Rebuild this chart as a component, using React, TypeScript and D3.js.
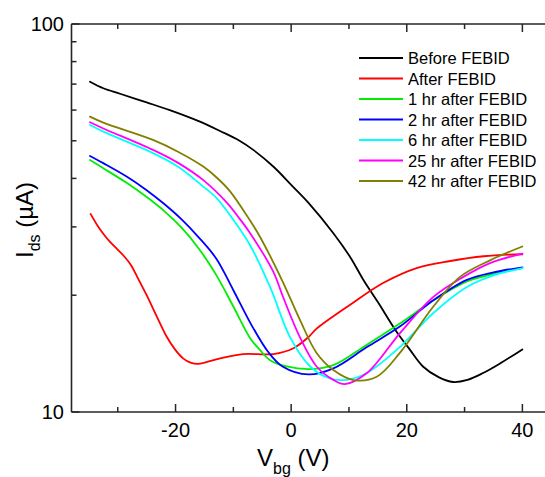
import React from "react";
import * as d3 from "d3";

type P = [number, number];

const seriesNames = [
  "Before FEBID",
  "After FEBID",
  "1 hr after FEBID",
  "2 hr after FEBID",
  "6 hr after FEBID",
  "25 hr after FEBID",
  "42 hr after FEBID",
];
const seriesColors = ["#000000", "#ff0000", "#00ee00", "#0000ff", "#00ffff", "#ff00ff", "#808000"];

const before: P[] = [
  [-34.8, 71.0], [-32.5, 68.3], [-29.6, 66.1], [-25, 62.8], [-21, 60.0], [-16, 56.2], [-12.3, 53.0],
  [-9, 50.1], [-6.5, 47.3], [-3, 42.8], [0, 38.5], [3, 34.6], [7.3, 28.9], [10.2, 25.1], [12.5, 21.9],
  [15, 19.2], [18, 16.3], [20.5, 14.5], [22.8, 13.1], [25.5, 12.3], [28, 11.95], [30.5, 12.1],
  [33.2, 12.6], [36, 13.3], [40, 14.5],
];
const after: P[] = [
  [-34.7, 32.4], [-33.6, 30.4], [-32.5, 28.8], [-31.3, 27.4], [-30.1, 26.3], [-28.9, 25.2],
  [-27.7, 23.9], [-26.5, 22.1], [-25, 20.0], [-23.3, 17.7], [-21.5, 15.6], [-20.1, 14.5],
  [-18.7, 13.75], [-17.4, 13.4], [-16.1, 13.3], [-12.3, 13.75], [-8.3, 14.1], [-3.1, 14.1], [0.4, 14.6],
  [3, 15.6], [4.4, 16.4], [10.2, 18.9], [15.9, 21.5], [21.7, 23.5], [27.5, 24.5], [33.3, 25.2],
  [40, 25.5],
];
const hr1: P[] = [
  [-34.8, 44.6], [-32.5, 42.5], [-28.4, 38.9], [-25, 35.8], [-22, 33.0], [-19, 29.9], [-16, 26.4],
  [-13, 22.6], [-10, 18.7], [-7.1, 15.5], [-5.4, 14.45], [-3.65, 13.6], [-0.76, 13.1],
  [3.3, 12.9], [7.3, 13.2], [13.1, 14.9], [18.8, 16.9], [24.6, 19.4], [30.4, 21.7], [35, 22.7],
  [40, 23.5],
];
const hr2: P[] = [
  [-34.8, 45.7], [-32.5, 43.8], [-28.4, 40.4], [-25, 37.3], [-22, 34.4], [-19, 31.4], [-16, 28.2],
  [-13, 24.9], [-10, 20.6], [-7, 16.9], [-4, 14.3], [-1.5, 13.1], [3, 12.5], [7.3, 12.96],
  [13.1, 14.7], [18.8, 16.6], [24.6, 19.4], [30.4, 21.9], [35, 22.9], [40, 23.6],
];
const hr6: P[] = [
  [-34.8, 54.9], [-32.5, 52.8], [-23.8, 46.4], [-19.5, 42.8], [-15.2, 38.1], [-12.9, 35.6],
  [-10.6, 32.2], [-7.1, 26.9], [-3.65, 21.0], [-0.2, 15.6], [3.3, 13.1], [6.7, 12.2], [9.6, 12.1],
  [13.1, 12.6], [18.8, 14.7], [24.6, 18.0], [30.4, 21.0], [35, 22.5], [40, 23.5],
];
const hr25: P[] = [
  [-34.8, 55.8], [-32.5, 53.8], [-23.8, 47.3], [-19.5, 43.8], [-15.2, 39.6], [-11.1, 34.6], [-9, 31.6],
  [-7.1, 28.9], [-3.1, 23.0], [-1.35, 19.7], [1.5, 15.6], [4.4, 13.1], [7.3, 12.1], [9.3, 11.8],
  [13.1, 12.6], [18.8, 15.95], [24.6, 19.8], [29.8, 22.3], [34.4, 24.2], [40, 25.6],
];
const hr42: P[] = [
  [-34.8, 57.7], [-32.5, 55.7], [-23.8, 50.2], [-19.5, 46.8], [-15.2, 42.9], [-12.8, 40.1],
  [-10.6, 37.1], [-7.2, 31.3], [-5.4, 28.3], [-1.35, 21.5], [1.5, 17.3], [4.4, 14.2], [7.3, 12.83],
  [10.8, 12.09], [14.8, 12.33], [18.8, 14.2], [24.6, 18.7], [29.2, 22.3], [34.4, 24.6], [40, 26.7],
];
const allSeries = [before, after, hr1, hr2, hr6, hr25, hr42];

const xMajorTicks = [-20, 0, 20, 40];
const xMinorTicks = [-30, -10, 10, 30];
const yMajorTicks = [10, 100];
const yMinorTicks = [20, 30, 40, 50, 60, 70, 80, 90];

const W = 545;
const H = 477;
const left = 71.5;
const right = 545.5;
const top = 24;
const bottom = 412;

export default function App() {
  const x = d3.scaleLinear().domain([-38, 44]).range([left, right]);
  const y = d3.scaleLog().domain([10, 100]).range([bottom, top]);
  const line = d3
    .line<P>()
    .x((d) => x(d[0]))
    .y((d) => y(d[1]))
    .curve(d3.curveCatmullRom.alpha(0.5));
  const font = "'Liberation Sans', Arial, sans-serif";
  const axisColor = "#262626";

  return (
    <svg
      width={W}
      height={H}
      style={{ position: "absolute", left: 0, top: 0, background: "#fff" }}
      fontFamily={font}
    >
      <rect x={0} y={0} width={W} height={H} fill="#fff" />
      {/* frame */}
      <line x1={left} x2={left} y1={top} y2={bottom} stroke={axisColor} strokeWidth={1.6} />
      <line x1={left} x2={W} y1={bottom} y2={bottom} stroke={axisColor} strokeWidth={1.6} />
      <line x1={left} x2={W} y1={top} y2={top} stroke={axisColor} strokeWidth={1.6} />
      {/* x ticks */}
      {xMajorTicks.map((t) => (
        <g key={"xm" + t}>
          <line x1={x(t)} x2={x(t)} y1={bottom} y2={bottom - 8} stroke={axisColor} strokeWidth={1.5} />
          <line x1={x(t)} x2={x(t)} y1={top} y2={top + 8} stroke={axisColor} strokeWidth={1.5} />
          <text x={x(t)} y={437} textAnchor="middle" fontSize={20} fill="#000">
            {t}
          </text>
        </g>
      ))}
      {xMinorTicks.map((t) => (
        <g key={"xn" + t}>
          <line x1={x(t)} x2={x(t)} y1={bottom} y2={bottom - 5} stroke={axisColor} strokeWidth={1.5} />
          <line x1={x(t)} x2={x(t)} y1={top} y2={top + 5} stroke={axisColor} strokeWidth={1.5} />
        </g>
      ))}
      {/* y ticks */}
      {yMajorTicks.map((t) => (
        <g key={"ym" + t}>
          <line x1={left} x2={left + 8} y1={y(t)} y2={y(t)} stroke={axisColor} strokeWidth={1.5} />
          <text x={64} y={y(t) + 7} textAnchor="end" fontSize={20} fill="#000">
            {t}
          </text>
        </g>
      ))}
      {yMinorTicks.map((t) => (
        <line key={"yn" + t} x1={left} x2={left + 5} y1={y(t)} y2={y(t)} stroke={axisColor} strokeWidth={1.5} />
      ))}
      {/* curves */}
      <g fill="none" strokeWidth={1.8} strokeLinejoin="round" strokeLinecap="round">
        {allSeries.map((s, i) => (
          <path key={i} d={line(s) || ""} stroke={seriesColors[i]} />
        ))}
      </g>
      {/* legend */}
      {seriesNames.map((n, i) => {
        const cy = 58 + i * 20.5;
        return (
          <g key={n}>
            <line x1={359} x2={403} y1={cy} y2={cy} stroke={seriesColors[i]} strokeWidth={1.8} />
            <text x={408} y={cy + 6} fontSize={16.5} fill="#000">
              {n}
            </text>
          </g>
        );
      })}
      {/* axis titles */}
      <text x={257} y={466} fontSize={24} fill="#000">
        V
        <tspan fontSize={16} dy={8}>bg</tspan>
        <tspan dy={-8}> (V)</tspan>
      </text>
      <text transform="translate(33,258) rotate(-90)" x={0} y={0} fontSize={24} fill="#000">
        I
        <tspan fontSize={16} dy={7}>ds</tspan>
        <tspan dy={-7}> (µA)</tspan>
      </text>
    </svg>
  );
}
